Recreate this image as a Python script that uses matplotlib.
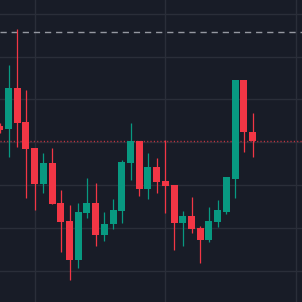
import matplotlib
matplotlib.use("Agg")
import matplotlib.pyplot as plt
import numpy as np

# OHLC data (arbitrary price units)
opens  = [116.90, 116.55, 121.35, 117.37, 114.33, 110.12, 112.57, 107.89, 105.79, 101.23,
          106.73, 107.89, 104.15, 105.44, 106.96, 112.57, 115.15, 109.53, 112.11, 110.47,
          110.00, 105.56, 106.37, 104.97, 103.57, 105.67, 106.84, 110.70, 122.28, 116.20]
highs  = [117.30, 124.04, 128.25, 121.11, 114.33, 113.74, 114.33, 109.42, 107.66, 107.89,
          110.82, 110.23, 106.84, 108.36, 112.92, 117.25, 115.15, 113.74, 113.16, 115.26,
          110.00, 106.96, 108.60, 105.20, 107.43, 108.25, 110.94, 122.28, 122.28, 118.42]
lows   = [116.10, 113.27, 114.44, 108.48, 107.08, 109.06, 107.78, 102.16, 98.89, 100.29,
          106.14, 102.87, 103.45, 104.85, 105.56, 110.58, 108.71, 108.36, 109.06, 106.73,
          102.40, 102.87, 104.39, 100.88, 103.33, 105.09, 106.61, 108.48, 113.86, 113.27]
closes = [116.43, 121.35, 117.25, 114.21, 110.12, 112.57, 107.78, 105.67, 101.23, 106.84,
          107.89, 104.15, 105.44, 107.08, 112.69, 115.15, 109.53, 112.11, 110.35, 109.88,
          105.56, 106.37, 104.85, 103.57, 105.79, 107.08, 110.94, 122.28, 116.20, 115.15]
ref_level = 127.86          # dashed horizontal line
grid_prices = [100, 105, 110, 115, 120, 125, 130]
grid_bars = [4, 19, 34]

BG = "#181c27"
GRID = "#2a2e39"
UP = "#089981"
DOWN = "#f23645"

fig = plt.figure(figsize=(3.02, 3.02), dpi=100, facecolor=BG)
ax = fig.add_axes([0, 0, 1, 1])
ax.set_facecolor(BG)

x = np.arange(len(opens))
o = np.array(opens); h = np.array(highs); l = np.array(lows); c = np.array(closes)
up = c >= o
colors = np.where(up, UP, DOWN)

for gp in grid_prices:
    ax.axhline(gp, color=GRID, lw=1.0, zorder=0)
for gb in grid_bars:
    ax.axvline(gb, color=GRID, lw=1.0, zorder=0)

ax.vlines(x, l, h, colors=colors, lw=0.9, zorder=2)
bottoms = np.minimum(o, c)
heights = np.maximum(np.abs(c - o), 0.05)
ax.bar(x, heights, bottom=bottoms, width=0.8, color=colors, zorder=3, linewidth=0)

ax.axhline(ref_level, color="#9598a1", lw=1.0, dashes=(4.5, 3.5), zorder=1)
ax.axhline(closes[-1], color=DOWN, lw=1.0, dashes=(0.8, 1.6), alpha=0.8, zorder=1)

ax.set_xlim(0.023, 34.68)
ax.set_ylim(96.316, 131.637)
ax.axis("off")

fig.savefig("out.png", dpi=100, facecolor=BG)
